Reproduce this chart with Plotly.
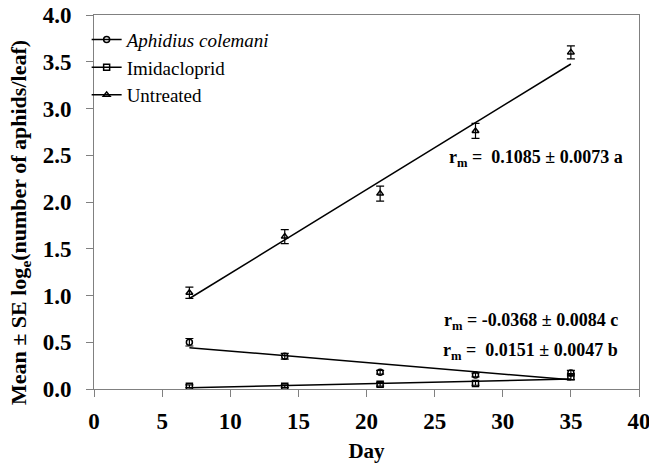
import numpy as np
import plotly.graph_objects as go

days = [7, 14, 21, 28, 35]
aphidius = [0.50, 0.35, 0.18, 0.15, 0.17]
aphidius_se = [0.04, 0.03, 0.02, 0.02, 0.03]
imidacloprid = [0.03, 0.03, 0.05, 0.06, 0.13]
imidacloprid_se = [0.015, 0.015, 0.02, 0.02, 0.03]
untreated = [1.03, 1.63, 2.09, 2.76, 3.60]
untreated_se = [0.06, 0.075, 0.08, 0.08, 0.07]

series_names = ["<i>Aphidius colemani</i>", "Imidacloprid", "Untreated"]
symbols = ["circle-open", "square-open", "triangle-up-open"]
rm_labels = [
    "r<sub>m</sub> = -0.0368 ± 0.0084 c",
    "r<sub>m</sub> =  0.0151 ± 0.0047 b",
    "r<sub>m</sub> =  0.1085 ± 0.0073 a",
]
rm_pos = [(38.6, 0.72), (38.6, 0.40), (38.95, 2.47)]

y_title = "<b>Mean ± SE log<sub>e</sub>(number of aphids/leaf)</b>"
x_title = "<b>Day</b>"

FONT = "Liberation Serif"

fig = go.Figure()
data = [(aphidius, aphidius_se), (imidacloprid, imidacloprid_se), (untreated, untreated_se)]
x = np.array(days, dtype=float)
for (vals, se), name, sym in zip(data, series_names, symbols):
    k, b = np.polyfit(x, np.array(vals), 1)
    fig.add_trace(go.Scatter(
        x=[x.min(), x.max()], y=[k * x.min() + b, k * x.max() + b],
        mode="lines", line=dict(color="black", width=1.5),
        showlegend=False, hoverinfo="skip"))
    fig.add_trace(go.Scatter(
        x=days, y=vals, mode="markers",
        marker=dict(symbol=sym, size=6, color="black", line=dict(width=1.5, color="black")),
        error_y=dict(type="data", array=se, visible=True, color="black", thickness=1.2, width=4),
        showlegend=False))
    fig.add_trace(go.Scatter(
        x=[None], y=[None], mode="lines+markers", name=name,
        line=dict(color="black", width=1.5),
        marker=dict(symbol=sym, size=6, color="black", line=dict(width=1.5, color="black"))))

for txt, (ax, ay) in zip(rm_labels, rm_pos):
    fig.add_annotation(x=ax, y=ay, text="<b>" + txt + "</b>", showarrow=False,
                       xanchor="right", yanchor="middle",
                       font=dict(family=FONT, size=18, color="black"))

# y-axis title as rotated text (placed like the reference, slightly below centre)
fig.add_annotation(xref="paper", yref="paper", x=-0.1358, y=0.4465, text=y_title,
                   textangle=-90, showarrow=False, xanchor="center", yanchor="middle",
                   font=dict(family=FONT, size=22, color="black"))

fig.update_layout(
    width=649, height=473,
    margin=dict(l=94, r=10, t=15, b=84),
    paper_bgcolor="white", plot_bgcolor="white",
    font=dict(family=FONT, color="black"),
    legend=dict(x=-0.0135, y=0.985, xanchor="left", yanchor="top",
                font=dict(family=FONT, size=19, color="black"),
                bgcolor="rgba(0,0,0,0)", itemwidth=30, tracegroupgap=0),
    showlegend=True,
)
fig.update_xaxes(
    range=[0, 40], tickvals=[0, 5, 10, 15, 20, 25, 30, 35, 40],
    ticktext=["0", "5", "10", "15", "20", "25", "30", "35", "40"],
    showgrid=False, zeroline=False, automargin=False, ticklabeloverflow="allow",
    showline=True, linecolor="#808080", linewidth=1, mirror=True,
    ticks="outside", ticklen=7, tickcolor="#808080",
    tickfont=dict(family=FONT, size=23, color="black", weight="bold"),
    ticklabelstandoff=4,
    title=dict(text=x_title, font=dict(family=FONT, size=21, color="black"), standoff=10),
)
fig.update_yaxes(
    range=[0, 4], tickvals=[0, 0.5, 1, 1.5, 2, 2.5, 3, 3.5, 4],
    ticktext=["0.0", "0.5", "1.0", "1.5", "2.0", "2.5", "3.0", "3.5", "4.0"],
    showgrid=False, zeroline=False, automargin=False, ticklabeloverflow="allow",
    showline=True, linecolor="#808080", linewidth=1, mirror=True,
    ticks="outside", ticklen=7, tickcolor="#808080",
    tickfont=dict(family=FONT, size=23, color="black", weight="bold"),
    ticklabelstandoff=10,
)

fig.write_html("out.html", config={"displayModeBar": False},
               post_script="document.body.style.margin='0';document.body.style.overflow='hidden';")
